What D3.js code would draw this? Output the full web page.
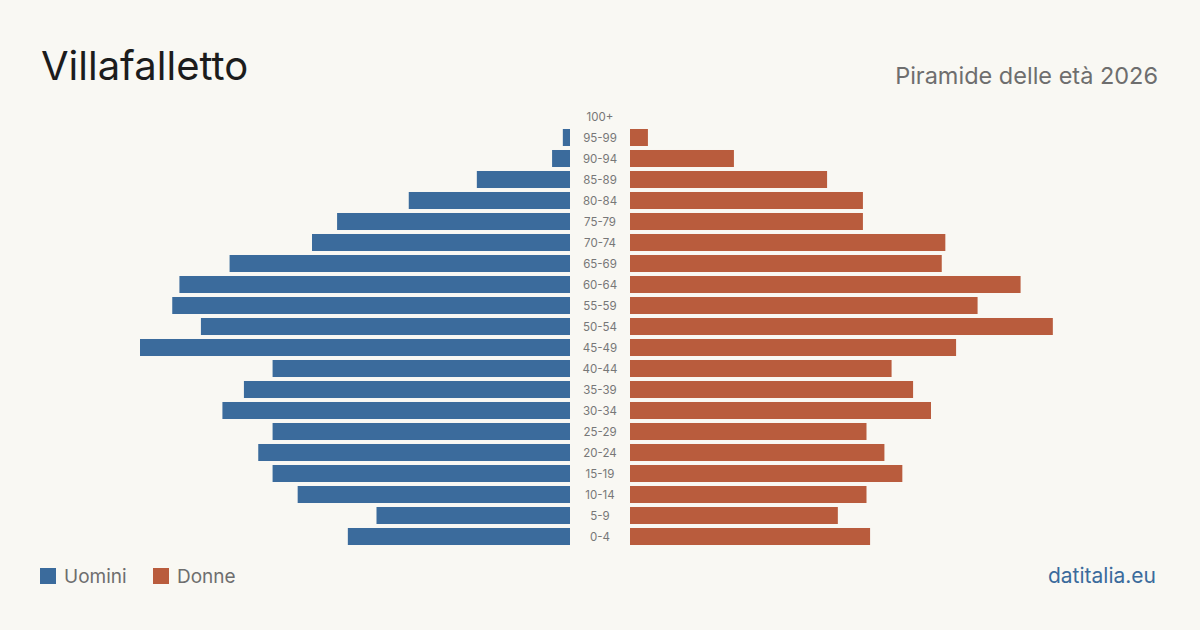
<!DOCTYPE html>
<html>
<head>
<meta charset="utf-8">
<script src="https://cdn.jsdelivr.net/npm/d3@7"></script>
<style>
  html, body { margin: 0; padding: 0; background: #f9f8f3; }
  svg { display: block; font-family: Inter, "Noto Sans", sans-serif; }
</style>
</head>
<body>
<div id="chart"></div>
<script>
// Age groups, top to bottom
const ageGroups = ['100+', '95-99', '90-94', '85-89', '80-84', '75-79', '70-74', '65-69',
  '60-64', '55-59', '50-54', '45-49', '40-44', '35-39', '30-34', '25-29',
  '20-24', '15-19', '10-14', '5-9', '0-4'];

// Residents per age group
const men   = [0, 2, 5, 26, 45, 65, 72, 95, 109, 111, 103, 120, 83, 91, 97, 83, 87, 83, 76, 54, 62];
const women = [0, 5, 29, 55, 65, 65, 88, 87, 109, 97, 118, 91, 73, 79, 84, 66, 71, 76, 66, 58, 67];

const maxValue = 120;

const width = 1200;
const height = 630;
const colors = { men: '#3b6b9c', women: '#b95c3d' };

const svg = d3.select('#chart')
  .append('svg')
  .attr('width', width)
  .attr('height', height);

svg.append('rect')
  .attr('width', width)
  .attr('height', height)
  .attr('fill', '#f9f8f3');

// Scales
const y = d3.scaleBand()
  .domain(ageGroups)
  .range([106, 547])
  .paddingInner(0.19)
  .paddingOuter(0.095);

const xLeft = d3.scaleLinear().domain([0, maxValue]).range([570, 140]);
const xRight = d3.scaleLinear().domain([0, maxValue]).range([630, 1060]);

// Men bars (left)
svg.append('g')
  .selectAll('rect')
  .data(ageGroups.map((g, i) => ({ group: g, value: men[i] })))
  .enter()
  .append('rect')
  .attr('x', d => xLeft(d.value))
  .attr('y', d => y(d.group))
  .attr('width', d => xLeft(0) - xLeft(d.value))
  .attr('height', y.bandwidth())
  .attr('fill', colors.men);

// Women bars (right)
svg.append('g')
  .selectAll('rect')
  .data(ageGroups.map((g, i) => ({ group: g, value: women[i] })))
  .enter()
  .append('rect')
  .attr('x', xRight(0))
  .attr('y', d => y(d.group))
  .attr('width', d => xRight(d.value) - xRight(0))
  .attr('height', y.bandwidth())
  .attr('fill', colors.women);

// Age labels in the middle
svg.append('g')
  .selectAll('text')
  .data(ageGroups)
  .enter()
  .append('text')
  .attr('x', 600)
  .attr('y', d => y(d) + y.bandwidth() / 2)
  .attr('dy', '0.35em')
  .attr('text-anchor', 'middle')
  .attr('fill', '#777')
  .style('font-size', '11.5px')
  .text(d => d);

// Title and subtitle
svg.append('text')
  .attr('x', 41)
  .attr('y', 80)
  .attr('fill', '#1c1c1c')
  .style('font-size', '40px')
  .style('font-weight', 400)
  .text('Villafalletto');

svg.append('text')
  .attr('x', 1158)
  .attr('y', 84)
  .attr('text-anchor', 'end')
  .attr('fill', '#6e6e6e')
  .style('font-size', '23.5px')
  .text('Piramide delle età 2026');

// Legend
const legend = svg.append('g').attr('transform', 'translate(40,568)');
const legendItems = [
  { label: 'Uomini', color: colors.men, x: 0 },
  { label: 'Donne', color: colors.women, x: 113 }
];
legendItems.forEach(item => {
  legend.append('rect')
    .attr('x', item.x)
    .attr('y', 0)
    .attr('width', 16)
    .attr('height', 16)
    .attr('fill', item.color);
  legend.append('text')
    .attr('x', item.x + 24)
    .attr('y', 15)
    .attr('fill', '#6e6e6e')
    .style('font-size', '19px')
    .text(item.label);
});

// Source
svg.append('text')
  .attr('x', 1156)
  .attr('y', 583)
  .attr('text-anchor', 'end')
  .attr('fill', '#3b6b9c')
  .style('font-size', '21px')
  .text('datitalia.eu');
</script>
</body>
</html>
